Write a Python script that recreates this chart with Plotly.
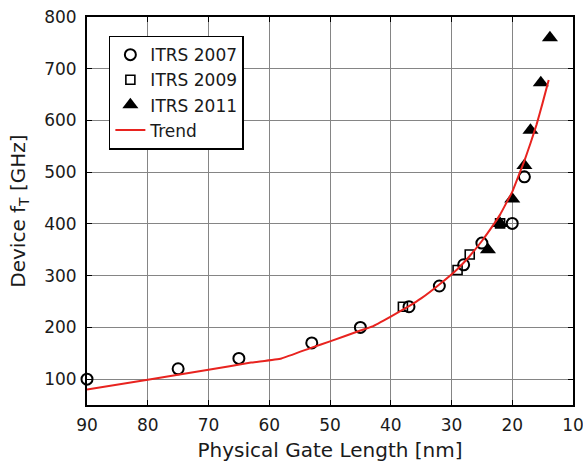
import plotly.graph_objects as go

# ITRS 2007 (open circles)
itrs2007_L = [90, 75, 65, 53, 45, 37, 32, 28, 25, 20, 18]
itrs2007_f = [100, 120, 140, 170, 200, 240, 280, 321, 363, 401, 491]

# ITRS 2009 (open squares)
itrs2009_L = [38, 29, 27, 22]
itrs2009_f = [240, 311, 341, 401]

# ITRS 2011 (filled triangles)
itrs2011_L = [24, 22, 20, 18, 17, 15.3, 13.8]
itrs2011_f = [350, 401, 448, 513, 581, 673, 760]

# Trend line
trend_L = [90, 80, 70, 63, 58, 53, 50, 45, 43, 40, 37, 35, 32, 29, 27, 25, 23, 22, 21, 20, 19, 18, 17, 16, 15, 14]
trend_f = [80, 99, 118, 132, 140, 161, 173, 194, 202, 221, 241, 256, 283, 313, 338, 367, 400, 418, 440, 462, 492, 522, 556, 592, 634, 678]

x_ticks = [90, 80, 70, 60, 50, 40, 30, 20, 10]
y_ticks = [100, 200, 300, 400, 500, 600, 700, 800]

FONT = "DejaVu Sans, Liberation Sans, Arial, sans-serif"
TXT = "#1a1a1a"

fig = go.Figure()
fig.add_trace(go.Scatter(x=itrs2007_L, y=itrs2007_f, mode="markers", name="ITRS 2007",
                         cliponaxis=False,
                         marker=dict(symbol="circle-open", size=11, color="black",
                                     line=dict(width=2, color="black"))))
fig.add_trace(go.Scatter(x=itrs2009_L, y=itrs2009_f, mode="markers", name="ITRS 2009",
                         cliponaxis=False,
                         marker=dict(symbol="square-open", size=9, color="black",
                                     line=dict(width=1.6, color="black"))))
fig.add_trace(go.Scatter(x=itrs2011_L, y=itrs2011_f, mode="markers", name="ITRS 2011",
                         cliponaxis=False,
                         marker=dict(symbol="triangle-up", size=14, color="black")))
fig.add_trace(go.Scatter(x=trend_L, y=trend_f, mode="lines", name="Trend",
                         line=dict(color="#e8231f", width=2, shape="spline", smoothing=0.35)))

axis_common = dict(showline=True, linecolor="black", linewidth=2, mirror="ticks",
                   ticks="inside", ticklen=5, tickcolor="black", tickwidth=1,
                   showgrid=True, gridcolor="#858585", gridwidth=1, zeroline=False,
                   automargin=False, ticklabeloverflow="allow",
                   tickfont=dict(size=17, color=TXT, family=FONT))

fig.update_xaxes(range=[90, 10], tickvals=x_ticks, ticklabelstandoff=4,
                 title=dict(text="Physical Gate Length [nm]",
                            font=dict(size=20, color=TXT, family=FONT), standoff=9),
                 **axis_common)
fig.update_yaxes(range=[50, 800], tickvals=y_ticks, ticklabelstandoff=5,
                 title=dict(text="Device f<sub>T</sub> [GHz]",
                            font=dict(size=20, color=TXT, family=FONT), standoff=13),
                 **axis_common)

fig.update_layout(
    width=583, height=464,
    margin=dict(l=87, r=10, t=17, b=59),
    plot_bgcolor="white", paper_bgcolor="white",
    font=dict(family=FONT, color=TXT),
    showlegend=True,
    legend=dict(x=0.045, y=0.952, xanchor="left", yanchor="top",
                bgcolor="white", bordercolor="black", borderwidth=1.5,
                font=dict(size=17, family=FONT, color=TXT),
                itemwidth=30, tracegroupgap=0),
)

fig.write_html("out.html", config={"displayModeBar": False})

# remove the default 8px page margin so the figure sits at the window's corner
with open("out.html", "r", encoding="utf-8") as fh:
    html = fh.read()
html = html.replace("<head>", "<head><style>html,body{margin:0;padding:0;overflow:hidden;}</style>", 1)
with open("out.html", "w", encoding="utf-8") as fh:
    fh.write(html)
